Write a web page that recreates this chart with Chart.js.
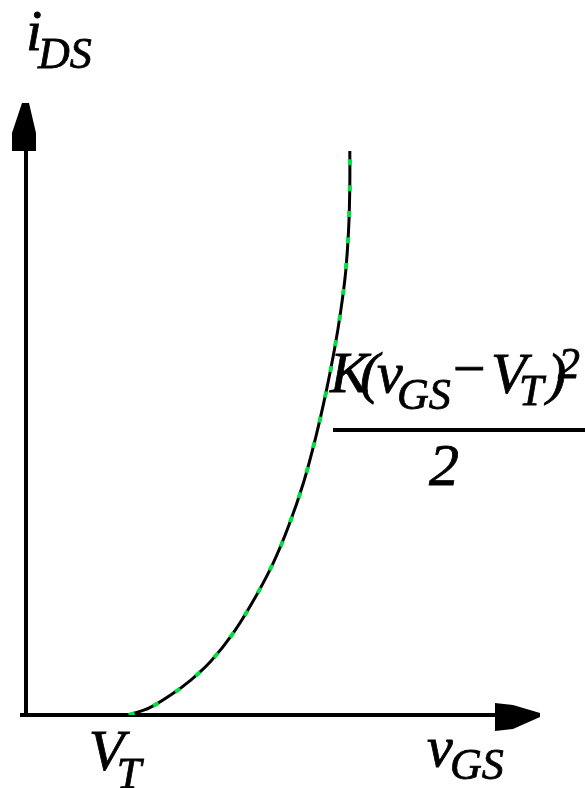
<!DOCTYPE html>
<html>
<head>
<meta charset="utf-8">
<script src="https://cdn.jsdelivr.net/npm/chart.js@4/dist/chart.umd.min.js"></script>
<style>
  html, body { margin: 0; padding: 0; background: #fff; }
  canvas { display: block; }
</style>
</head>
<body>
<canvas id="mosfetChart" width="585" height="788"></canvas>
<script>
// Transfer curve i_DS(v_GS), in axis units (V_T = 1)
const vGS = [1.00, 1.20, 1.40, 1.60, 1.80, 2.00, 2.20, 2.40, 2.55, 2.70,
             2.82, 2.92, 3.00, 3.06, 3.11, 3.14, 3.15, 3.15];
const iDS = [0.00, 0.07, 0.19, 0.34, 0.53, 0.78, 1.10, 1.48, 1.84, 2.28,
             2.73, 3.17, 3.58, 3.95, 4.35, 4.80, 5.20, 5.53];
const thresholdV = 1.0;
const xMax = 5;
const yMax = 6;

const serif = '"Liberation Serif", "DejaVu Serif", serif';
const mainFont = 'italic 58px ' + serif;
const subFont = 'italic 44px ' + serif;

const points = vGS.map((v, i) => ({ x: v, y: iDS[i] }));

function text(ctx, str, x, y, font, align) {
    ctx.font = font;
    ctx.textAlign = align || 'left';
    ctx.fillText(str, x, y);
    ctx.lineWidth = 0.8;
    ctx.strokeText(str, x, y);
}

// Axes with arrowheads plus the math labels
const axesPlugin = {
    id: 'axesPlugin',
    beforeDatasetsDraw(chart) {
        const ctx = chart.ctx;
        const xs = chart.scales.x;
        const ys = chart.scales.y;
        const x0 = xs.getPixelForValue(0);
        const y0 = ys.getPixelForValue(0);
        const xEnd = xs.getPixelForValue(xMax);
        const yEnd = ys.getPixelForValue(yMax);

        ctx.save();
        ctx.fillStyle = '#000';
        ctx.strokeStyle = '#000';
        ctx.lineWidth = 4;

        // x axis
        ctx.beginPath();
        ctx.moveTo(x0 - 6, y0);
        ctx.lineTo(xEnd - 44, y0);
        ctx.stroke();
        ctx.beginPath();
        ctx.moveTo(xEnd - 45, y0 - 12);
        ctx.lineTo(xEnd - 27, y0 - 10);
        ctx.lineTo(xEnd, y0 - 2);
        ctx.lineTo(xEnd, y0 + 2);
        ctx.lineTo(xEnd - 27, y0 + 14);
        ctx.lineTo(xEnd - 45, y0 + 16);
        ctx.closePath();
        ctx.fill();

        // y axis
        ctx.beginPath();
        ctx.moveTo(x0, y0 + 2);
        ctx.lineTo(x0, yEnd + 46);
        ctx.stroke();
        ctx.beginPath();
        ctx.moveTo(x0 - 4, yEnd);
        ctx.lineTo(x0 + 3, yEnd);
        ctx.lineTo(x0 + 10, yEnd + 30);
        ctx.lineTo(x0 + 10, yEnd + 48);
        ctx.lineTo(x0 - 14, yEnd + 48);
        ctx.lineTo(x0 - 14, yEnd + 30);
        ctx.closePath();
        ctx.fill();

        // axis titles
        text(ctx, 'i', x0, 50, mainFont);
        text(ctx, 'DS', x0 + 12, 68, subFont);
        text(ctx, 'v', 427, y0 + 51, mainFont);
        text(ctx, 'GS', 450, y0 + 64, subFont);

        // threshold label under the x axis
        const vt = xs.getPixelForValue(thresholdV);
        text(ctx, 'V', vt - 40, y0 + 55, mainFont);
        text(ctx, 'T', vt - 12, y0 + 73, subFont);

        // K(v_GS - V_T)^2 / 2
        text(ctx, 'K', 330, 392, mainFont);
        text(ctx, '(', 360, 392, mainFont);
        text(ctx, 'v', 377, 392, mainFont);
        text(ctx, 'GS', 397, 409, subFont);
        text(ctx, '\u2212', 449, 388, mainFont);
        text(ctx, 'V', 491, 393, mainFont);
        text(ctx, 'T', 519, 405, subFont);
        text(ctx, ')', 547, 393, mainFont);
        text(ctx, '2', 558, 378, subFont);
        ctx.fillRect(333, 428, 252, 4);
        text(ctx, '2', 444, 485, 'italic 60px ' + serif, 'center');
        ctx.restore();
    }
};

new Chart(document.getElementById('mosfetChart'), {
    type: 'scatter',
    data: {
        datasets: [
            {
                // green dash marks laid over the curve
                data: points,
                showLine: true,
                borderColor: '#00e040',
                borderWidth: 4,
                borderDash: [6, 20],
                pointRadius: 0,
                tension: 0.35
            },
            {
                data: points,
                showLine: true,
                borderColor: '#000',
                borderWidth: 3,
                pointRadius: 0,
                tension: 0.35
            }
        ]
    },
    options: {
        responsive: false,
        devicePixelRatio: 1,
        animation: false,
        layout: { padding: { left: 26, right: 45, top: 103, bottom: 73 } },
        scales: {
            x: { type: 'linear', min: 0, max: xMax, display: false },
            y: { type: 'linear', min: 0, max: yMax, display: false }
        },
        plugins: {
            legend: { display: false },
            tooltip: { enabled: false }
        }
    },
    plugins: [axesPlugin]
});
</script>
</body>
</html>
